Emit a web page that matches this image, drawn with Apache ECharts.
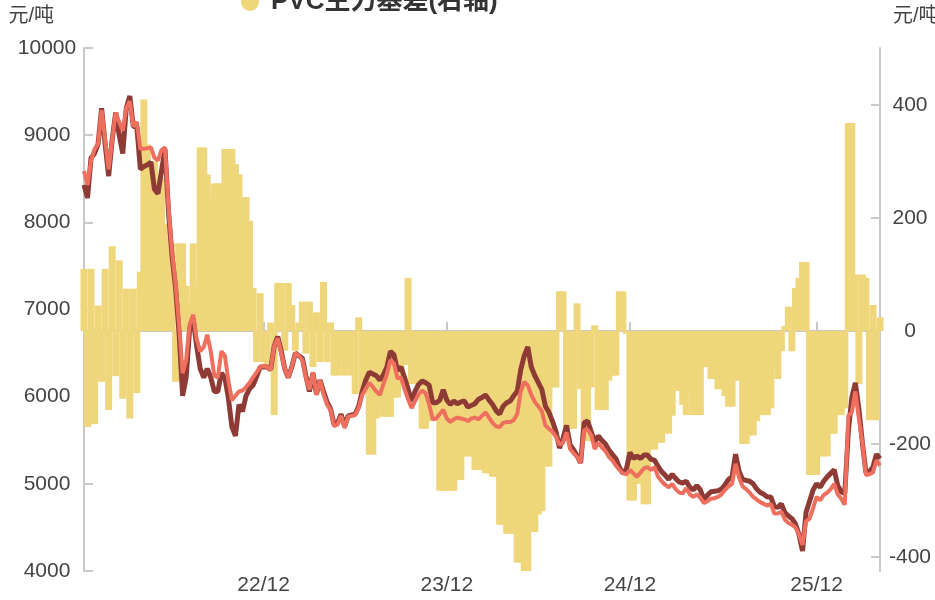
<!DOCTYPE html>
<html lang="zh">
<head>
<meta charset="UTF-8">
<title>PVC基差</title>
<script src="https://cdn.jsdelivr.net/npm/echarts@6/dist/echarts.min.js"></script>
<style>
  html, body { margin: 0; padding: 0; background: #fff; }
  #chart { width: 935px; height: 600px; }
</style>
</head>
<body>
<div id="chart"></div>
<script>
// 主力合约收盘价（深色线，左轴）
var futures = [
  8430,8280,8740,8790,8900,9310,8900,8530,8950,9260,
  9000,8790,9310,9450,9100,9100,8610,8640,8660,8690,
  8380,8330,8590,8840,8120,7610,7250,6730,6010,6220,
  6780,6890,6580,6320,6220,6320,6220,6060,6060,6270,
  6220,5980,5650,5550,5910,5830,6010,6090,6130,6230,
  6340,6340,6340,6310,6580,6690,6520,6320,6220,6340,
  6500,6470,6440,6240,6060,6270,6030,6190,6060,5940,
  5860,5680,5700,5800,5660,5780,5790,5800,5890,6060,
  6190,6280,6260,6240,6190,6250,6340,6520,6480,6300,
  6340,6220,6090,5950,6060,6140,6180,6160,6130,5930,
  5930,5960,6080,5960,5910,5950,5920,5940,5950,5880,
  5900,5920,5970,5990,6020,5960,5910,5840,5800,5890,
  5930,5950,6010,6060,6310,6470,6570,6340,6240,6160,
  6080,5890,5820,5720,5600,5410,5520,5670,5450,5390,
  5320,5240,5700,5720,5600,5480,5550,5500,5460,5390,
  5340,5290,5190,5120,5170,5360,5290,5320,5290,5330,
  5330,5280,5270,5200,5140,5100,5050,5110,5060,5020,
  5010,5030,4960,4930,4980,4930,4820,4870,4910,4915,
  4920,4940,4990,5050,5080,5340,5140,5050,5040,5030,
  5000,4940,4900,4880,4850,4850,4740,4730,4770,4670,
  4630,4600,4540,4420,4230,4670,4800,4930,5000,4960,
  5030,5080,5120,5160,4980,4910,4890,5600,5990,6160,
  5860,5470,5130,5140,5190,5340,5290
];
// 现货价（浅红线，左轴）
var spot = [
  8590,8430,8710,8840,8900,9290,8950,8610,8950,9260,
  9150,9050,9310,9390,9100,9150,8840,8845,8850,8860,
  8740,8710,8830,8860,8170,7660,7300,6830,6270,6420,
  6830,6940,6660,6520,6570,6710,6520,6240,6220,6520,
  6470,6180,5960,6010,6060,6070,6110,6160,6220,6280,
  6340,6350,6340,6310,6580,6670,6500,6320,6220,6340,
  6500,6470,6420,6220,6080,6280,6020,6190,6030,5910,
  5850,5660,5680,5780,5640,5770,5780,5790,5870,6020,
  6090,6160,6110,6060,6020,6140,6260,6420,6380,6210,
  6220,6090,5970,5870,5950,6030,6070,6040,5910,5740,
  5750,5800,5850,5750,5710,5740,5760,5750,5740,5720,
  5750,5760,5740,5780,5820,5760,5700,5660,5650,5700,
  5710,5710,5730,5800,6060,6170,6130,6020,5940,5890,
  5830,5670,5630,5600,5540,5450,5470,5590,5400,5350,
  5310,5240,5620,5620,5560,5400,5470,5420,5380,5310,
  5270,5210,5160,5120,5110,5160,5120,5080,5130,5180,
  5190,5160,5190,5080,5030,4990,4960,5000,4940,4900,
  4890,4950,4880,4850,4880,4840,4780,4800,4830,4835,
  4850,4880,4930,4970,5000,5230,5070,4970,4940,4900,
  4850,4820,4790,4770,4750,4770,4660,4660,4680,4590,
  4550,4530,4500,4420,4300,4570,4600,4720,4850,4810,
  4870,4900,4940,5000,4880,4830,4760,5780,5820,6060,
  5750,5470,5100,5110,5130,5270,5210
];
// 主力基差（柱，右轴）
var basis = [
  110,-170,110,-165,45,-90,110,-140,150,-80,
  125,-120,75,-155,75,-110,105,410,330,300,
  300,270,270,190,190,155,-90,155,155,80,
  50,155,80,325,325,277,237,261,261,261,
  322,322,322,295,277,237,237,195,76,-55,
  67,-55,-64,15,-149,85,85,-35,85,46,
  -35,15,52,-40,52,-64,33,-55,87,-55,
  15,-79,-79,-50,-79,-60,-79,-112,24,-112,
  -100,-219,-219,-155,-130,-152,-152,-152,-118,-118,
  -94,-60,94,-94,-94,-100,-173,-173,-160,-155,
  -155,-283,-283,-283,-283,-283,-264,-264,-222,-222,
  -222,-246,-246,-246,-252,-252,-258,-258,-343,-343,
  -359,-359,-359,-410,-410,-425,-425,-356,-356,-325,
  -319,-240,-240,-100,-100,70,70,-173,-173,-173,
  49,-103,-195,-195,-100,10,-140,-140,-140,-88,
  -79,-79,70,70,-5,-300,-300,-270,-270,-307,
  -307,-210,-210,-198,-198,-179,-182,-150,-106,-106,
  -131,-149,-106,-149,-149,-149,-64,-64,-85,-85,
  -103,-103,-115,-134,-134,-88,-88,-200,-200,-185,
  -185,-160,-149,-149,-149,-137,-64,-85,-36,9,
  43,-36,76,94,122,122,-255,-255,-255,-222,
  -222,-222,-182,-182,-149,-149,-137,368,368,100,
  -94,100,94,-158,46,-158,24
];
var xTicks = ['2022-12-04', '2023-12-03', '2024-12-01', '2025-12-07'];
var rightTicks = [-400, -200, 0, 200, 400];

// 周度日期（周日）
var dates = [];
var t0 = Date.UTC(2021, 11, 12);
for (var i = 0; i < futures.length; i++) {
  dates.push(new Date(t0 + i * 7 * 86400000).toISOString().slice(0, 10));
}

var font = 'Arial, "Liberation Sans", "Noto Sans CJK SC", sans-serif';
var axisColor = '#c8c8c8';
var labelColor = '#444';
var isTick = function (idx, val) { return xTicks.indexOf(val) > -1; };
var plain = function (v) { return String(v); };

var chart = echarts.init(document.getElementById('chart'));
chart.setOption({
  animation: false,
  textStyle: { fontFamily: font },
  legend: {
    data: ['PVC主力基差(右轴)'],
    left: 236,
    top: -16,
    icon: 'circle',
    itemWidth: 32,
    itemHeight: 18,
    textStyle: { fontSize: 26, fontWeight: 'bold', color: '#333' }
  },
  grid: { left: 84, right: 55, top: 48, bottom: 29, containLabel: false, outerBoundsMode: 'none' },
  xAxis: {
    type: 'category',
    data: dates,
    boundaryGap: false,
    axisLine: { lineStyle: { color: axisColor, width: 2 } },
    axisTick: { inside: true, length: 9, interval: isTick, lineStyle: { color: axisColor, width: 2 } },
    axisLabel: {
      interval: isTick,
      color: labelColor,
      fontSize: 21,
      margin: 4,
      formatter: function (v) { return v.slice(2, 4) + '/' + v.slice(5, 7); }
    },
    splitLine: { show: false }
  },
  yAxis: [
    {
      type: 'value',
      min: 4000,
      max: 10000,
      interval: 1000,
      name: '元/吨',
      nameGap: 22,
      nameTextStyle: { fontSize: 20, color: labelColor, align: 'right', padding: [0, 30, 0, 0] },
      axisLine: { show: true, lineStyle: { color: axisColor, width: 2 } },
      axisTick: { show: true, inside: true, length: 9, lineStyle: { color: axisColor, width: 2 } },
      axisLabel: { fontSize: 21, color: labelColor, margin: 37, align: 'center', formatter: plain },
      splitLine: { show: false }
    },
    {
      type: 'value',
      position: 'right',
      min: -425,
      max: 501,
      name: '元/吨',
      nameGap: 22,
      nameTextStyle: { fontSize: 20, color: labelColor, align: 'left', padding: [0, 0, 0, 13] },
      axisLine: { show: true, lineStyle: { color: axisColor, width: 2 } },
      axisTick: { show: true, inside: true, length: 9, customValues: rightTicks, lineStyle: { color: axisColor, width: 2 } },
      axisLabel: { fontSize: 21, color: labelColor, margin: 30, align: 'center', customValues: rightTicks, formatter: plain },
      splitLine: { show: false }
    }
  ],
  series: [
    {
      name: 'PVC主力基差(右轴)',
      type: 'bar',
      yAxisIndex: 1,
      data: basis,
      barWidth: 7,
      itemStyle: { color: '#efd67b' }
    },
    {
      name: 'PVC主力合约收盘价',
      type: 'line',
      data: futures,
      symbol: 'none',
      lineStyle: { color: '#8e3b35', width: 5 },
      itemStyle: { color: '#8e3b35' }
    },
    {
      name: 'PVC现货价',
      type: 'line',
      data: spot,
      symbol: 'none',
      lineStyle: { color: '#ef6f5f', width: 4 },
      itemStyle: { color: '#ef6f5f' }
    }
  ]
});
</script>
</body>
</html>
